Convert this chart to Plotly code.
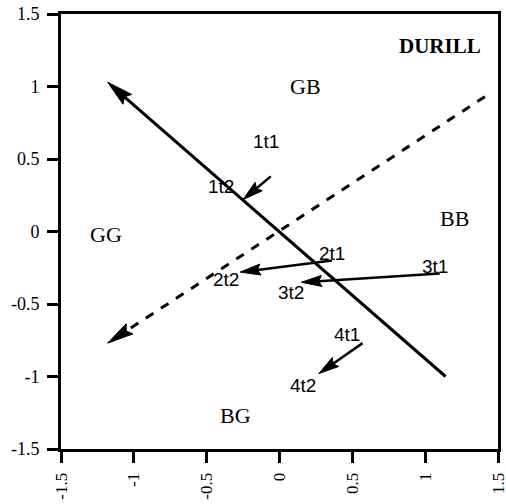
import math
import plotly.graph_objects as go

# Trajectories: position at time 1 (t1) and time 2 (t2) for each subject
subjects = ["1", "2", "3", "4"]
t1_x = [-0.06, 0.36, 1.10, 0.57]
t1_y = [0.38, -0.20, -0.29, -0.77]
t2_x = [-0.25, -0.27, 0.15, 0.27]
t2_y = [0.22, -0.28, -0.35, -0.98]

# Label positions for t1 / t2 markers
t1_lab_x = [-0.09, 0.36, 1.07, 0.46]
t1_lab_y = [0.62, -0.15, -0.24, -0.71]
t2_lab_x = [-0.40, -0.37, 0.08, 0.16]
t2_lab_y = [0.31, -0.33, -0.42, -1.06]

# Reference axes (solid and dashed), from tail to head
solid_axis_x = [1.14, -1.18]
solid_axis_y = [-1.00, 1.03]
dashed_axis_x = [1.41, -1.18]
dashed_axis_y = [0.93, -0.77]

# Quadrant names
region_names = ["GB", "BB", "GG", "BG"]
region_x = [0.18, 1.20, -1.19, -0.30]
region_y = [1.00, 0.09, -0.02, -1.27]

title_text = "DURILL"
title_x, title_y = 1.10, 1.28

tick_vals = [-1.5, -1, -0.5, 0, 0.5, 1, 1.5]
tick_text = ["-1.5", "-1", "-0.5", "0", "0.5", "1", "1.5"]

serif = "Liberation Serif, Times New Roman, serif"
sans = "Liberation Sans, Arial, sans-serif"


def arrow_head(x0, y0, x1, y1, length, half_width, notch):
    """Polygon for a notched arrowhead pointing from (x0, y0) to (x1, y1)."""
    dx, dy = x1 - x0, y1 - y0
    n = math.hypot(dx, dy)
    ux, uy = dx / n, dy / n
    px, py = -uy, ux
    bx, by = x1 - ux * length, y1 - uy * length
    nx, ny = x1 - ux * length * notch, y1 - uy * length * notch
    xs = [x1, bx + px * half_width, nx, bx - px * half_width, x1]
    ys = [y1, by + py * half_width, ny, by - py * half_width, y1]
    return xs, ys, nx, ny


fig = go.Figure()


def add_arrow(x0, y0, x1, y1, width, length, half_width, dash="solid"):
    hx, hy, nx, ny = arrow_head(x0, y0, x1, y1, length, half_width, 0.85)
    fig.add_trace(go.Scatter(
        x=[x0, nx], y=[y0, ny], mode="lines",
        line=dict(color="black", width=width, dash=dash),
        hoverinfo="skip", showlegend=False,
    ))
    fig.add_trace(go.Scatter(
        x=hx, y=hy, mode="lines", fill="toself", fillcolor="black",
        line=dict(color="black", width=1),
        hoverinfo="skip", showlegend=False,
    ))


add_arrow(solid_axis_x[0], solid_axis_y[0], solid_axis_x[1], solid_axis_y[1],
          3, 0.18, 0.045)
add_arrow(dashed_axis_x[0], dashed_axis_y[0], dashed_axis_x[1], dashed_axis_y[1],
          3, 0.18, 0.042, dash="dash")
for i in range(len(subjects)):
    add_arrow(t1_x[i], t1_y[i], t2_x[i], t2_y[i], 2.5, 0.14, 0.038)

annotations = []
for i in range(len(subjects)):
    annotations.append(dict(
        x=t1_lab_x[i], y=t1_lab_y[i], text=subjects[i] + "t1", showarrow=False,
        xref="x", yref="y", font=dict(family=sans, size=19, color="black"),
    ))
    annotations.append(dict(
        x=t2_lab_x[i], y=t2_lab_y[i], text=subjects[i] + "t2", showarrow=False,
        xref="x", yref="y", font=dict(family=sans, size=19, color="black"),
    ))

for name, rx, ry in zip(region_names, region_x, region_y):
    annotations.append(dict(
        x=rx, y=ry, text=name, showarrow=False, xref="x", yref="y",
        font=dict(family=serif, size=22, color="black"),
    ))

annotations.append(dict(
    x=title_x, y=title_y, text="<b>" + title_text + "</b>", showarrow=False,
    xref="x", yref="y", font=dict(family=serif, size=21, color="black"),
))

axis_common = dict(
    range=[-1.5, 1.5], tickvals=tick_vals, ticktext=tick_text,
    showgrid=False, zeroline=False, showline=True, linecolor="black",
    linewidth=3, mirror=True, ticks="outside", ticklen=11, tickwidth=3,
    tickcolor="black", automargin=False, ticklabeloverflow="allow",
)

fig.update_layout(
    width=506, height=504,
    margin=dict(l=61, r=8, t=14, b=55),
    paper_bgcolor="white", plot_bgcolor="white",
    showlegend=False,
    annotations=annotations,
    xaxis=dict(**axis_common, tickangle=-90, ticklabelstandoff=3,
               tickfont=dict(family=serif, size=17, color="black")),
    yaxis=dict(**axis_common, ticklabelstandoff=4,
               tickfont=dict(family=serif, size=18, color="black")),
)

fig.write_html("out.html")
